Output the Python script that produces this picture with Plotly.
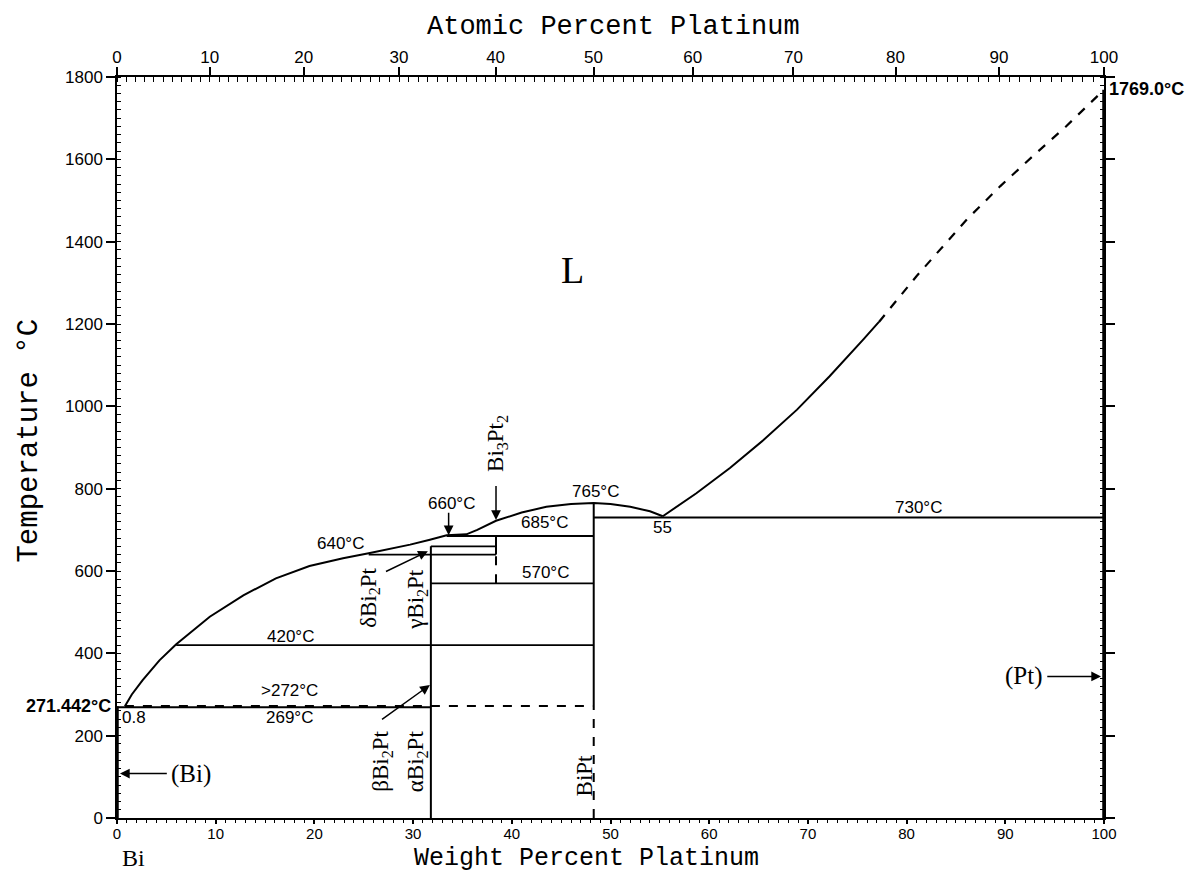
import plotly.graph_objects as go

# ---------------- data ----------------
M_BI = 208.98
M_PT = 195.08

# liquidus, Bi side up to the 765 maximum and down to the 55 wt% eutectic
liq_left_wt = [0.8, 1.5, 2.6, 4.3, 6.0, 9.4, 12.8, 16.1, 19.5, 22.9, 25.5, 27.9, 29.7, 31.7, 33.4,
               35.4, 36.5, 38.4, 41.0, 43.5, 46.0, 48.3, 50.0, 52.0, 54.0, 55.3]
liq_left_T = [271.4, 300, 335, 383, 422, 489, 541, 582, 612, 631, 643, 655, 664, 676, 687,
              689, 700, 722, 742, 756, 763, 765, 763, 756, 745, 733]
# liquidus, Pt side (solid part)
liq_right_wt = [55.3, 58.7, 62.1, 65.5, 68.9, 72.2, 75.6, 77.2]
liq_right_T = [733, 789, 850, 918, 992, 1073, 1162, 1205]
# liquidus, Pt side (dashed part)
liq_dash_wt = [77.2, 81.0, 86.1, 89.5, 92.8, 96.2, 100.0]
liq_dash_T = [1205, 1316, 1454, 1535, 1608, 1681, 1769]

# invariant (horizontal) lines
iso_T = [420, 570, 640, 660, 685, 730, 269]
iso_x0 = [6.0, 31.8, 25.5, 31.8, 33.4, 48.3, 0.0]
iso_x1 = [48.3, 48.3, 38.4, 38.4, 48.3, 100.0, 31.8]
iso_dash_T = [272]
iso_dash_x0 = [0.8]
iso_dash_x1 = [48.3]

# compound lines (vertical)
comp_x = [31.8, 38.4, 48.3, 100.0, 0.0]
comp_T0 = [0, 640, 272, 0, 0]
comp_T1 = [660, 685, 765, 1769, 271.4]
comp_w = [2, 2, 2, 3.5, 3.5]
comp_dash_x = [38.4, 48.3]
comp_dash_T0 = [570, 0]
comp_dash_T1 = [640, 272]

x_ticks = [0, 10, 20, 30, 40, 50, 60, 70, 80, 90, 100]
y_ticks = [0, 200, 400, 600, 800, 1000, 1200, 1400, 1600, 1800]
at_ticks = [0, 10, 20, 30, 40, 50, 60, 70, 80, 90, 100]


def at_to_wt(a):
    return 100.0 * a * M_PT / (a * M_PT + (100.0 - a) * M_BI)


fig = go.Figure()


def add_line(x, y, dash='solid', width=2):
    fig.add_trace(go.Scatter(x=x, y=y, mode='lines',
                             line=dict(color='black', width=width, dash=dash),
                             hoverinfo='skip', showlegend=False, cliponaxis=False))


add_line(liq_left_wt, liq_left_T, width=2)
add_line(liq_right_wt, liq_right_T, width=2)
add_line(liq_dash_wt, liq_dash_T, dash='dash', width=2.2)
for t, a, b in zip(iso_T, iso_x0, iso_x1):
    add_line([a, b], [t, t], width=1.8)
for t, a, b in zip(iso_dash_T, iso_dash_x0, iso_dash_x1):
    add_line([a, b], [t, t], dash='dash', width=2)
for x, a, b, w in zip(comp_x, comp_T0, comp_T1, comp_w):
    add_line([x, x], [a, b], width=w)
for x, a, b in zip(comp_dash_x, comp_dash_T0, comp_dash_T1):
    add_line([x, x], [a, b], dash='dash', width=2)

# dummy trace for top axis
fig.add_trace(go.Scatter(x=[0, 100], y=[0, 0], xaxis='x2', mode='lines',
                         line=dict(width=0, color='rgba(0,0,0,0)'), hoverinfo='skip', showlegend=False))

SANS = 'Liberation Sans'
SERIF = 'Liberation Serif'
MONO = 'Liberation Mono'

ann = []


def txt(x, y, s, size=17, font=SANS, angle=0, xanchor='center', yanchor='middle', xref='x', yref='y'):
    ann.append(dict(x=x, y=y, text=s, showarrow=False, textangle=angle, xanchor=xanchor, yanchor=yanchor,
                    xref=xref, yref=yref, font=dict(family=font, size=size, color='black')))


def arrow(x, y, ax, ay):
    ann.append(dict(x=x, y=y, ax=ax, ay=ay, xref='x', yref='y', axref='x', ayref='y', text='',
                    showarrow=True, arrowhead=2, arrowsize=1.3, arrowwidth=1.5, arrowcolor='black'))


txt(46.1, 1332, 'L', size=38, font=SERIF)
txt(48.5, 792, '765°C')
txt(43.3, 719, '685°C')
txt(33.9, 765, '660°C')
txt(22.6, 668, '640°C')
txt(43.4, 597, '570°C')
txt(17.6, 442, '420°C')
txt(17.5, 310, '&gt;272°C')
txt(17.5, 243, '269°C')
txt(0.3, 245, '0.8', xanchor='left')
txt(55.3, 705, '55')
txt(81.2, 755, '730°C')

txt(5.3, 108, '(Bi)', size=25, font=SERIF, xanchor='left')
arrow(0.3, 108, 5.2, 108)
txt(94.0, 344, '(Pt)', size=25, font=SERIF, xanchor='right')
arrow(99.7, 344, 94.1, 344)

txt(38.5, 911, 'Bi<sub>3</sub>Pt<sub>2</sub>', size=23, font=SERIF, angle=-90)
arrow(38.4, 724, 38.4, 810)
arrow(33.6, 687, 33.6, 745)

txt(25.6, 534, 'δBi<sub>2</sub>Pt', size=23, font=SERIF, angle=-90)
arrow(31.5, 648, 27.1, 597)
txt(30.4, 530, 'γBi<sub>2</sub>Pt', size=23, font=SERIF, angle=-90)
txt(26.9, 138, 'βBi<sub>2</sub>Pt', size=23, font=SERIF, angle=-90)
arrow(31.7, 323, 26.7, 237)
txt(30.4, 138, 'αBi<sub>2</sub>Pt', size=23, font=SERIF, angle=-90)
txt(47.4, 103, 'BiPt', size=23, font=SERIF, angle=-90)

txt(-0.004, 271.4, '<b>271.442°C</b>', size=18, xanchor='right', xref='paper')
txt(1.003, 1770, '<b>1769.0°C</b>', size=18, xanchor='left', xref='paper')

txt(0.3, -0.054, 'Bi', size=24, font=SERIF, xanchor='left', yref='paper')
txt(101.4, -0.054, 'Pt', size=24, font=SERIF, yref='paper')
txt(0.476, -0.0545, 'Weight Percent Platinum', size=25, font=MONO, xref='paper', yref='paper')
txt(0.503, 1.068, 'Atomic Percent Platinum', size=27, font=MONO, xref='paper', yref='paper')
txt(-0.0887, 0.51, 'Temperature °C', size=29, font=MONO, angle=-90, xref='paper', yref='paper')

fig.update_layout(
    width=1181, height=866, autosize=False,
    margin=dict(l=109, r=85, t=69, b=56),
    paper_bgcolor='white', plot_bgcolor='white',
    showlegend=False,
    annotations=ann,
    xaxis=dict(range=[0, 100], tickvals=x_ticks, ticktext=[str(v) for v in x_ticks],
               showgrid=False, zeroline=False, showline=True, linecolor='black', linewidth=1.5,
               mirror=False, ticks='outside', ticklen=4, tickwidth=1.5, tickcolor='black',
               ticklabelstandoff=-3,
               tickfont=dict(family=SANS, size=15, color='black'),
               minor=dict(dtick=1, ticks='outside', ticklen=3, tickcolor='black', tickwidth=1)),
    xaxis2=dict(range=[0, 100], overlaying='x', side='top', anchor='y',
                tickvals=[at_to_wt(a) for a in at_ticks], ticktext=[str(a) for a in at_ticks],
                showgrid=False, zeroline=False, showline=True, linecolor='black', linewidth=1.5,
                ticks='outside', ticklen=8, tickwidth=1.5, tickcolor='black', ticklabelstandoff=-3,
                tickfont=dict(family=SANS, size=17, color='black'),
                minor=dict(tickvals=[at_to_wt(a) for a in range(0, 101)], ticks='inside', ticklen=5,
                           tickcolor='black', tickwidth=1)),
    yaxis=dict(range=[0, 1800], tickvals=y_ticks, ticktext=[str(v) for v in y_ticks],
               showgrid=False, zeroline=False, showline=True, linecolor='black', linewidth=1.5,
               mirror='ticks', ticks='outside', ticklen=9, tickwidth=1.5, tickcolor='black',
               tickfont=dict(family=SANS, size=17, color='black'),
               minor=dict(dtick=20, ticks='inside', ticklen=4, tickcolor='black', tickwidth=1)),
)

fig.write_html('out.html')
